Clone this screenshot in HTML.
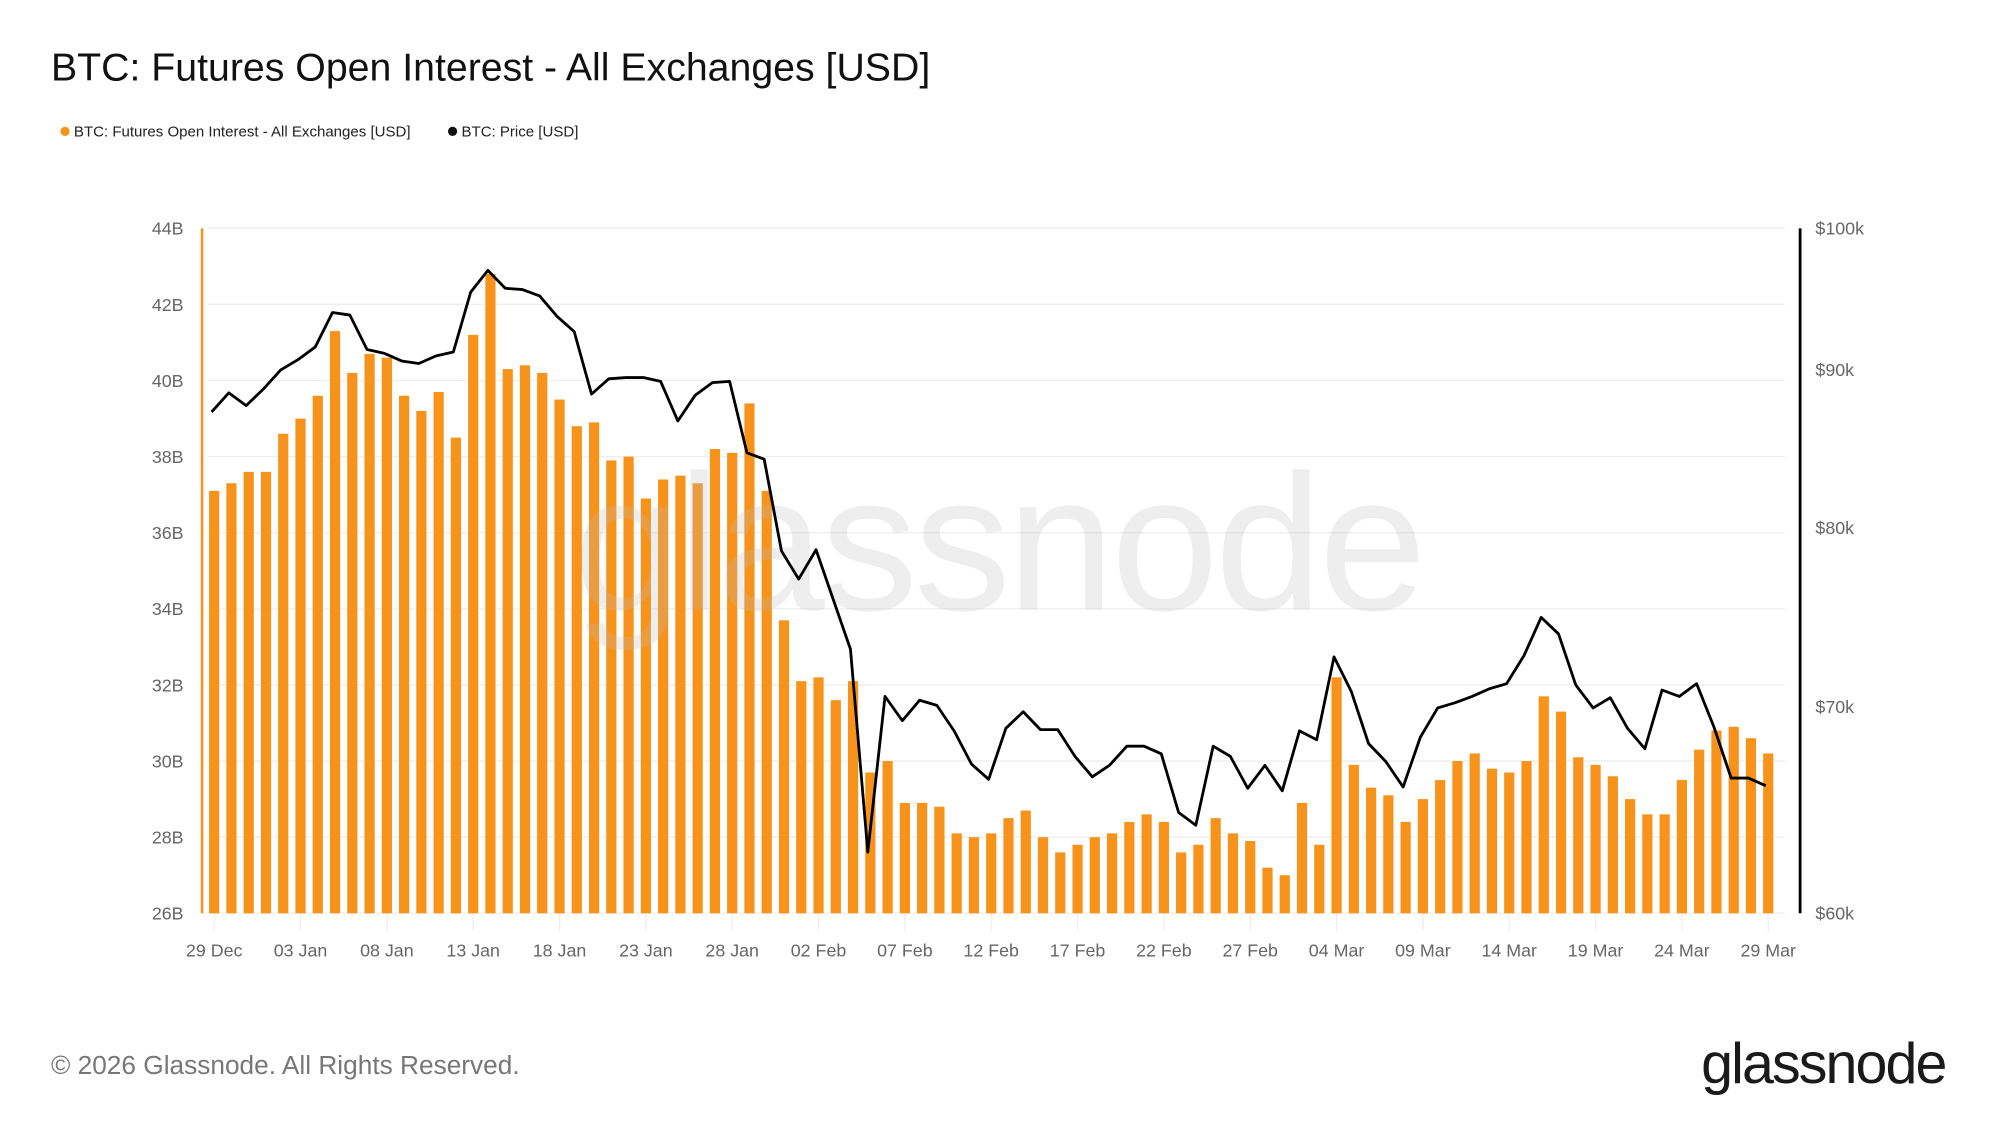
<!DOCTYPE html>
<html><head><meta charset="utf-8"><style>
html,body{margin:0;padding:0;background:#fff;}
svg{display:block;font-family:"Liberation Sans",sans-serif;}
</style></head><body>
<svg id="c" width="1999" height="1125" viewBox="0 0 1568 882" preserveAspectRatio="none">
<rect width="1568" height="882" fill="#fff"/>
<text x="40" y="63" font-size="30.8" fill="#111">BTC: Futures Open Interest - All Exchanges [USD]</text>
<circle cx="51" cy="103" r="3.6" fill="#f7931a"/>
<text x="58" y="107" font-size="11.8" fill="#222">BTC: Futures Open Interest - All Exchanges [USD]</text>
<circle cx="355" cy="103" r="3.6" fill="#111"/>
<text x="362" y="107" font-size="11.8" fill="#222">BTC: Price [USD]</text>
<g id="grid"></g>
<g id="bars"></g>
<text x="783" y="478" font-size="152" fill="#bbbbbb" fill-opacity="0.25" text-anchor="middle" letter-spacing="-3">glassnode</text>
<polyline id="price" fill="none" stroke="#000" stroke-width="2.2" stroke-linejoin="round"/>
<line x1="158.5" y1="179" x2="158.5" y2="716" stroke="#f7931a" stroke-width="2"/>
<line x1="1412" y1="179" x2="1412" y2="716" stroke="#000" stroke-width="2.2"/>
<g id="labels" font-size="14" fill="#666"></g>
<text x="40" y="842" font-size="20.6" fill="#777">© 2026 Glassnode. All Rights Reserved.</text>
<text x="1526" y="849" font-size="45" fill="#1a1a1a" text-anchor="end" letter-spacing="-1.5">glassnode</text>
</svg>
<script>
(function(){
var NS="http://www.w3.org/2000/svg";
function el(p,t,a,txt){var e=document.createElementNS(NS,t);for(var k in a)e.setAttribute(k,a[k]);if(txt)e.textContent=txt;p.appendChild(e);return e;}
var T=179,B=716;
var g=document.getElementById('grid'),lb=document.getElementById('labels'),bs=document.getElementById('bars');
for(var v=26;v<=44;v+=2){var y=B-(v-26)*(B-T)/18;
 el(g,'line',{x1:163,x2:1400,y1:y,y2:y,stroke:'#eeeeee','stroke-width':1});
 el(lb,'text',{x:144,y:y+5,'text-anchor':'end'},v+'B');}
[[100,'$100k'],[90,'$90k'],[80,'$80k'],[70,'$70k'],[60,'$60k']].forEach(function(p){
 var y=T+(2-Math.log10(p[0]))/(2-Math.log10(60))*(B-T);
 el(lb,'text',{x:1424,y:y+5},p[1]);});
var x0=168,dx=(1387-168)/90;
var xl=['29 Dec','03 Jan','08 Jan','13 Jan','18 Jan','23 Jan','28 Jan','02 Feb','07 Feb','12 Feb','17 Feb','22 Feb','27 Feb','04 Mar','09 Mar','14 Mar','19 Mar','24 Mar','29 Mar'];
xl.forEach(function(t,i){var x=x0+i*5*dx;
 el(g,'line',{x1:x,x2:x,y1:B,y2:B+14,stroke:'#eeeeee','stroke-width':1});
 el(lb,'text',{x:x,y:750,'text-anchor':'middle'},t);});
var oi=[37.1,37.3,37.6,37.6,38.6,39.0,39.6,41.3,40.2,40.7,40.6,39.6,39.2,39.7,38.5,41.2,42.8,40.3,40.4,40.2,39.5,38.8,38.9,37.9,38.0,36.9,37.4,37.5,37.3,38.2,38.1,39.4,37.1,33.7,32.1,32.2,31.6,32.1,29.7,30.0,28.9,28.9,28.8,28.1,28.0,28.1,28.5,28.7,28.0,27.6,27.8,28.0,28.1,28.4,28.6,28.4,27.6,27.8,28.5,28.1,27.9,27.2,27.0,28.9,27.8,32.2,29.9,29.3,29.1,28.4,29.0,29.5,30.0,30.2,29.8,29.7,30.0,31.7,31.3,30.1,29.9,29.6,29.0,28.6,28.6,29.5,30.3,30.8,30.9,30.6,30.2];
oi.forEach(function(v,i){var x=x0+i*dx,y=B-(v-26)*(B-T)/18;
 el(bs,'rect',{x:x-4,y:y,width:8,height:B-y,fill:'#f7931a'});});
var py=[323,308,318,305,290,282,272,245,247,274,277,283,285,279,276,229,212,226,227,232,248,260,309,297,296,296,299,330,310,300,299,355,360,432,454,431,470,509,668,546,565,549,553,573,599,611,571,558,572,572,593,609,600,585,585,591,637,647,585,593,618,600,620,573,580,515,542,583,597,617,578,555,551,546,540,536,514,484,497,537,555,547,571,587,541,546,536,570,610,610,616];
document.getElementById('price').setAttribute('points',py.map(function(y,i){return (x0+i*dx-2).toFixed(1)+','+y;}).join(' '));
})();
</script>
</body></html>
